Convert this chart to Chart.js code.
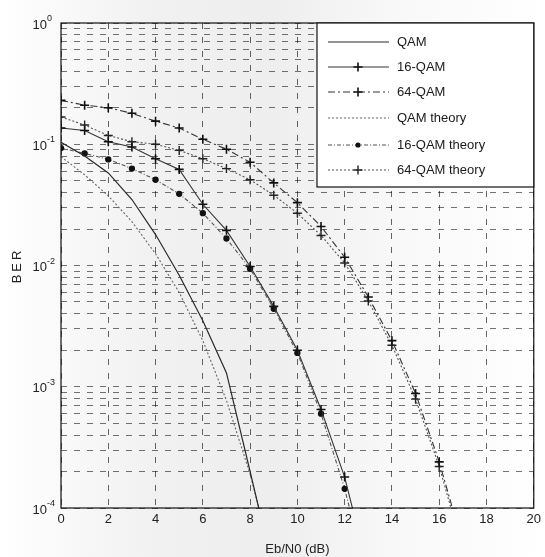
<!DOCTYPE html>
<html>
<head>
<meta charset="utf-8">
<script src="https://cdn.jsdelivr.net/npm/chart.js@4.4.0/dist/chart.umd.min.js"></script>
<style>
  html, body { margin: 0; padding: 0; background: #fff; }
  #wrap { width: 545px; height: 557px; }
</style>
</head>
<body>
<div id="wrap"><canvas id="berChart" width="545" height="557"></canvas></div>
<script>
// Eb/N0 points (dB) and BER
const ebno = [0, 1, 2, 3, 4, 5, 6, 7, 8, 9, 10, 11, 12, 13, 14, 15, 16, 17, 18, 19, 20];

const qamSim = [0.104, 0.08, 0.058, 0.035, 0.018, 0.0083, 0.0035, 0.0013, 0.0002, 0.00003];
const qam16Sim = [0.136, 0.13, 0.105, 0.095, 0.076, 0.062, 0.032, 0.0195, 0.0098, 0.0046, 0.002, 0.00065, 0.00018, 0.00003];
const qam64Sim = [0.23, 0.21, 0.2, 0.18, 0.155, 0.136, 0.11, 0.091, 0.071, 0.048, 0.033, 0.021, 0.0117, 0.0055, 0.0024, 0.00088, 0.00024, 0.00005];
const qamTheory = [0.079, 0.056, 0.0375, 0.023, 0.0125, 0.006, 0.0024, 0.00077, 0.00019, 0.000034];
const qam16Theory = [0.093, 0.084, 0.075, 0.063, 0.051, 0.039, 0.027, 0.0167, 0.0094, 0.0044, 0.0019, 0.0006, 0.000144, 0.000025];
const qam64Theory = [0.168, 0.144, 0.118, 0.105, 0.1, 0.089, 0.076, 0.063, 0.051, 0.038, 0.027, 0.0177, 0.0105, 0.0051, 0.0022, 0.00079, 0.00022, 0.000045];

const seriesNames = ["QAM", "16-QAM", "64-QAM", "QAM theory", "16-QAM theory", "64-QAM theory"];
const xTicks = [0, 2, 4, 6, 8, 10, 12, 14, 16, 18, 20];
const yMajor = [1e-4, 1e-3, 1e-2, 1e-1, 1];

const FONT = "'Liberation Sans', Arial, sans-serif";

const toPoints = arr => arr.map((v, i) => ({ x: ebno[i], y: v }));

const styles = [
    { borderColor: '#2a2a2a', borderWidth: 1.2, pointRadius: 0 },
    { borderColor: '#333', borderWidth: 1.1, pointStyle: 'cross', pointRadius: 4.5, pointBorderWidth: 1.6, pointBorderColor: '#111' },
    { borderColor: '#333', borderWidth: 1.1, borderDash: [7, 3, 2, 3], pointStyle: 'cross', pointRadius: 4.5, pointBorderWidth: 1.6, pointBorderColor: '#111' },
    { borderColor: '#666', borderWidth: 1.1, borderDash: [2, 2], pointRadius: 0 },
    { borderColor: '#555', borderWidth: 1.1, borderDash: [4, 2, 1, 2], pointStyle: 'circle', pointRadius: 2.6, pointBackgroundColor: '#111', pointBorderColor: '#111' },
    { borderColor: '#555', borderWidth: 1.1, borderDash: [2, 2], pointStyle: 'cross', pointRadius: 4.5, pointBorderWidth: 1.4, pointBorderColor: '#222' }
];

const seriesData = [qamSim, qam16Sim, qam64Sim, qamTheory, qam16Theory, qam64Theory];

const datasets = seriesData.map((arr, i) => Object.assign({
    label: seriesNames[i],
    data: toPoints(arr),
    fill: false,
    tension: 0
}, styles[i]));

// scan-like background + frame, y labels, legend
const paperPlugin = {
    id: 'paper',
    beforeDraw(chart) {
        const c = chart.ctx;
        const g = c.createLinearGradient(0, 0, chart.width, 0);
        g.addColorStop(0, '#ffffff');
        g.addColorStop(0.28, '#f1f1f1');
        g.addColorStop(0.5, '#eeeeee');
        g.addColorStop(0.72, '#f8f8f8');
        g.addColorStop(1, '#ffffff');
        c.save();
        c.fillStyle = g;
        c.fillRect(0, 0, chart.width, chart.height);
        c.restore();
    },
    afterDraw(chart) {
        const c = chart.ctx;
        const a = chart.chartArea;
        const ys = chart.scales.y;
        c.save();

        // frame
        c.strokeStyle = '#111';
        c.lineWidth = 1.2;
        c.strokeRect(a.left, a.top, a.right - a.left, a.bottom - a.top);

        // y tick labels as 10^n
        c.fillStyle = '#222';
        yMajor.forEach(v => {
            const py = ys.getPixelForValue(v);
            const e = Math.round(Math.log10(v));
            c.font = '13px ' + FONT;
            c.textAlign = 'right';
            c.textBaseline = 'middle';
            c.fillText('10', 47, py + 2);
            c.font = '9px ' + FONT;
            c.textAlign = 'left';
            c.textBaseline = 'alphabetic';
            c.fillText(String(e), 47, py - 2);
        });

        // y title
        c.save();
        c.translate(17, (a.top + a.bottom) / 2);
        c.rotate(-Math.PI / 2);
        c.font = '13px ' + FONT;
        c.letterSpacing = '3px';
        c.textAlign = 'center';
        c.textBaseline = 'middle';
        c.fillText('BER', 0, 0);
        c.restore();

        // legend box
        const lx = 317, ly = a.top, lw = a.right - 317, lh = 164;
        c.fillStyle = '#ffffff';
        c.fillRect(lx, ly, lw, lh);
        c.strokeStyle = '#111';
        c.lineWidth = 1.2;
        c.strokeRect(lx, ly, lw, lh);

        const rows = [42, 67, 92, 118, 145, 170];
        rows.forEach((ry, i) => {
            const s = styles[i];
            c.save();
            c.strokeStyle = s.borderColor;
            c.lineWidth = s.borderWidth;
            c.setLineDash(s.borderDash || []);
            c.beginPath();
            c.moveTo(328, ry);
            c.lineTo(389, ry);
            c.stroke();
            c.restore();
            if (s.pointRadius) {
                c.save();
                c.strokeStyle = s.pointBorderColor;
                c.fillStyle = s.pointBorderColor;
                c.lineWidth = s.pointBorderWidth || 1;
                if (s.pointStyle === 'cross') {
                    c.beginPath();
                    c.moveTo(358 - s.pointRadius, ry);
                    c.lineTo(358 + s.pointRadius, ry);
                    c.moveTo(358, ry - s.pointRadius);
                    c.lineTo(358, ry + s.pointRadius);
                    c.stroke();
                } else {
                    c.beginPath();
                    c.arc(358, ry, s.pointRadius, 0, Math.PI * 2);
                    c.fill();
                }
                c.restore();
            }
            c.fillStyle = '#1a1a1a';
            c.font = '13px ' + FONT;
            c.textAlign = 'left';
            c.textBaseline = 'middle';
            c.fillText(seriesNames[i], 397, ry);
        });
        c.restore();
    }
};

const ctx = document.getElementById('berChart').getContext('2d');
new Chart(ctx, {
    type: 'line',
    data: { datasets: datasets },
    plugins: [paperPlugin],
    options: {
        responsive: false,
        animation: false,
        layout: { padding: { top: 23, right: 9, left: 0, bottom: 0 } },
        plugins: {
            legend: { display: false },
            tooltip: { enabled: false }
        },
        scales: {
            x: {
                type: 'linear',
                min: 0,
                max: 20,
                afterBuildTicks: scale => { scale.ticks = xTicks.map(v => ({ value: v })); },
                afterFit: scale => { scale.height = 49; },
                ticks: { font: { size: 13, family: FONT }, color: '#222', padding: 4, maxRotation: 0 },
                grid: { color: 'rgba(0,0,0,0.6)', lineWidth: 1, drawTicks: false },
                border: { display: false, dash: [6, 8] },
                title: {
                    display: true,
                    text: 'Eb/N0 (dB)',
                    font: { size: 13, family: FONT },
                    color: '#222',
                    padding: { top: 6, bottom: 0 }
                }
            },
            y: {
                type: 'logarithmic',
                min: 1e-4,
                max: 1,
                afterBuildTicks: scale => {
                    const t = [];
                    for (let e = -4; e < 0; e++) {
                        for (let m = 1; m < 10; m++) t.push({ value: m * Math.pow(10, e) });
                    }
                    t.push({ value: 1 });
                    scale.ticks = t;
                },
                afterFit: scale => { scale.width = 61; },
                ticks: { display: false },
                grid: { color: 'rgba(0,0,0,0.55)', lineWidth: 1, drawTicks: false },
                border: { display: false, dash: [6, 7] }
            }
        }
    }
});
</script>
</body>
</html>
